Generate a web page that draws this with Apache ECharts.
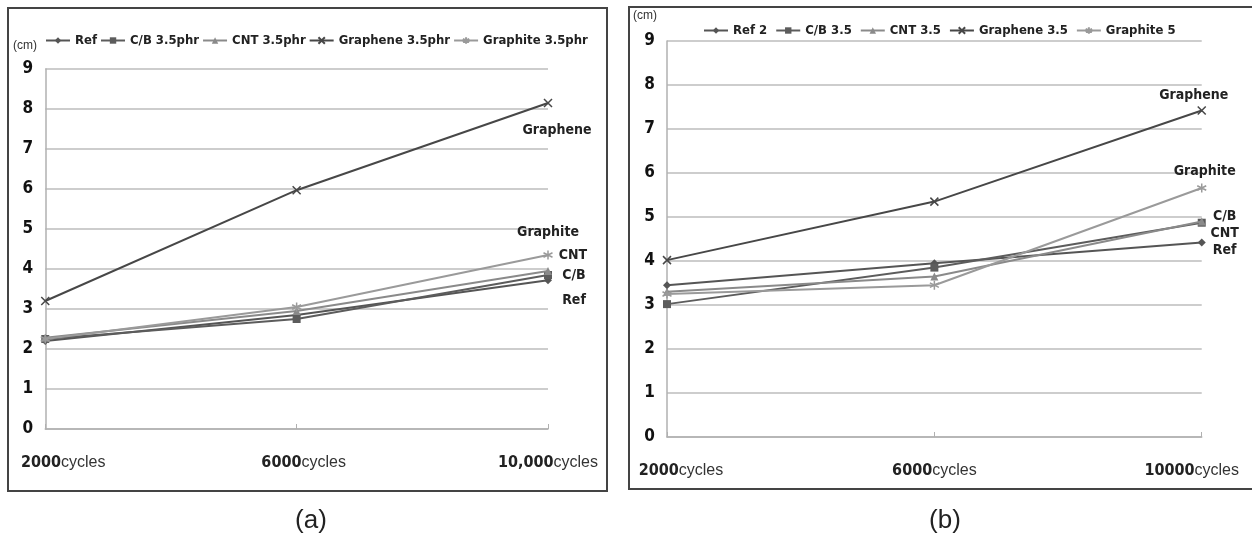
<!DOCTYPE html>
<html><head><meta charset="utf-8">
<script src="https://cdn.jsdelivr.net/npm/echarts@6/dist/echarts.min.js"></script>
<style>html,body{margin:0;padding:0;background:#fff}#c{width:1252px;height:547px}</style>
</head><body><div id="c"></div>
<script>
// ---- data ----
const catsA = ['2000', '6000', '10,000'];
const catsB = ['2000', '6000', '10000'];
const yTicks = [0, 1, 2, 3, 4, 5, 6, 7, 8, 9];

const namesA = ['Ref', 'C/B 3.5phr', 'CNT 3.5phr', 'Graphene 3.5phr', 'Graphite 3.5phr'];
const refA      = [2.20, 2.85, 3.72];
const cbA       = [2.25, 2.75, 3.85];
const cntA      = [2.28, 2.95, 3.95];
const grapheneA = [3.20, 5.97, 8.15];
const graphiteA = [2.25, 3.05, 4.35];

const namesB = ['Ref 2', 'C/B 3.5', 'CNT 3.5', 'Graphene 3.5', 'Graphite 5'];
const refB      = [3.45, 3.95, 4.42];
const cbB       = [3.02, 3.85, 4.87];
const cntB      = [3.30, 3.65, 4.90];
const grapheneB = [4.02, 5.35, 7.42];
const graphiteB = [3.25, 3.45, 5.66];

const endLabelsA = ['Ref', 'C/B', 'CNT', 'Graphene', 'Graphite'];
const endLabelsB = ['Ref', 'C/B', 'CNT', 'Graphene', 'Graphite'];

// ---- styles ----
const BOLD = '"DejaVu Sans Condensed", "Liberation Sans Narrow", sans-serif';
const REG = '"Liberation Sans", Arial, sans-serif';
const styles = [
  {color: '#555555', symbol: 'diamond', size: 8},
  {color: '#5c5c5c', symbol: 'rect', size: 8},
  {color: '#8a8a8a', symbol: 'triangle', size: 8},
  {color: '#474747', symbol: 'path://M0,0L10,10M10,0L0,10', size: 8, stroke: true},
  {color: '#9a9a9a', symbol: 'path://M5,0L5,10M0,2.5L10,7.5M0,7.5L10,2.5', size: 9, stroke: true}
];
const offA = [[26, 20], [26, 0], [25, -16], [9, 27], [0, -23]];
const offB = [[23, 8], [23, -6], [23, 12], [-8, -15], [3, -17]];

function mkSeries(vals, names, labels, offs, axisIdx) {
  return vals.map((v, i) => {
    const s = styles[i];
    const data = v.map((y, j) => {
      if (j !== v.length - 1) return y;
      return {value: y, label: {show: true, formatter: labels[i], position: 'inside', offset: offs[i],
        color: '#222', fontFamily: BOLD, fontWeight: 'bold', fontSize: 14, align: 'center', verticalAlign: 'middle'}};
    });
    return {
      type: 'line', name: names[i], xAxisIndex: axisIdx, yAxisIndex: axisIdx,
      data: data, symbol: s.symbol, symbolSize: s.size, showSymbol: true,
      lineStyle: {color: s.color, width: 2},
      itemStyle: s.stroke ? {color: s.color, borderColor: s.color, borderWidth: 1.5} : {color: s.color},
      emphasis: {disabled: true}, animation: false, z: 3 + i
    };
  });
}

function xAxis(cats, grid) {
  return {
    type: 'category', gridIndex: grid, data: cats, boundaryGap: false,
    axisLine: {lineStyle: {color: '#b0b0b0', width: 1.5}},
    axisTick: {show: true, inside: true, length: 5, lineStyle: {color: '#b0b0b0'}},
    axisLabel: {
      margin: 26, color: '#222', fontSize: 16,
      rich: {
        b: {fontFamily: BOLD, fontWeight: 'bold', fontSize: 16, color: '#222'},
        n: {fontFamily: REG, fontSize: 16, color: '#333'}
      }
    },
    splitLine: {show: false}
  };
}

function yAxis(grid) {
  return {
    type: 'value', gridIndex: grid, min: 0, max: 9, interval: 1,
    axisLine: {show: true, lineStyle: {color: '#b0b0b0', width: 1.5}},
    axisTick: {show: false},
    axisLabel: {margin: 12, color: '#111', fontFamily: BOLD, fontWeight: 'bold', fontSize: 17,
      formatter: v => yTicks.includes(v) ? String(v) : ''},
    splitLine: {lineStyle: {color: '#bdbdbd', width: 1.5}}
  };
}

const xa = xAxis(catsA, 0);
const xb = xAxis(catsB, 1);
// per-label placement like the original
xa.axisLabel.formatter = (v, i) => (i === 0 ? '{l0|}' : i === 1 ? '{l1|}' : '') + '{b|' + v + '}{n|cycles}';
xa.axisLabel.rich.l0 = {width: 36};
xa.axisLabel.rich.l1 = {width: 14};
xb.axisLabel.formatter = (v, i) => (i === 0 ? '{l0|}' : '') + '{b|' + v + '}{n|cycles}' + (i === 2 ? '{r2|}' : '');
xb.axisLabel.rich.l0 = {width: 28};
xb.axisLabel.rich.r2 = {width: 20};

const legendText = {fontFamily: BOLD, fontWeight: 'bold', fontSize: 13, color: '#222'};

const chart = echarts.init(document.getElementById('c'), null, {renderer: 'canvas'});
chart.setOption({
  backgroundColor: '#fff',
  animation: false,
  title: [
    {text: '(a)', left: 306, top: 503, textAlign: 'center', textStyle: {fontFamily: REG, fontWeight: 'normal', fontSize: 26, color: '#222'}},
    {text: '(b)', left: 940, top: 503, textAlign: 'center', textStyle: {fontFamily: REG, fontWeight: 'normal', fontSize: 26, color: '#222'}}
  ],
  legend: [
    {data: namesA, left: 40, top: 29, textStyle: legendText, itemWidth: 24, itemHeight: 8, itemGap: 3},
    {data: namesB, left: 698, top: 19, textStyle: legendText, itemWidth: 24, itemHeight: 8, itemGap: 8}
  ],
  grid: [
    {left: 41, right: 704, top: 69, bottom: 118},
    {left: 667, right: 42, top: 41, bottom: 110}
  ],
  xAxis: [xa, xb],
  yAxis: [yAxis(0), yAxis(1)],
  series: mkSeries([refA, cbA, cntA, grapheneA, graphiteA], namesA, endLabelsA, offA, 0)
    .concat(mkSeries([refB, cbB, cntB, grapheneB, graphiteB], namesB, endLabelsB, offB, 1)),
  graphic: [
    {type: 'rect', shape: {x: 8, y: 8, width: 599, height: 483}, style: {fill: 'none', stroke: '#444', lineWidth: 2}, silent: true},
    {type: 'rect', shape: {x: 629, y: 7, width: 640, height: 482}, style: {fill: 'none', stroke: '#444', lineWidth: 2}, silent: true},
    {type: 'text', left: 13, top: 40, style: {text: '(cm)', fontFamily: REG, fontSize: 12, fill: '#333'}},
    {type: 'text', left: 633, top: 10, style: {text: '(cm)', fontFamily: REG, fontSize: 12, fill: '#333'}}
  ]
});
</script>
</body></html>
